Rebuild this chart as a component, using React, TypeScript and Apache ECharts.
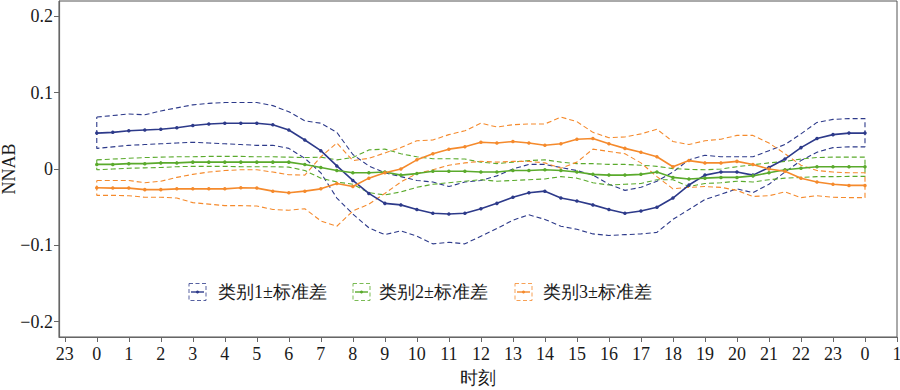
import React, { useEffect, useRef } from "react";
import * as echarts from "echarts";

// hours 0..24 every 30 minutes
const HOURS: number[] = Array.from({ length: 49 }, (_, i) => i * 0.5);

const X_TICKS = [-1, 0, 1, 2, 3, 4, 5, 6, 7, 8, 9, 10, 11, 12, 13, 14, 15, 16, 17, 18, 19, 20, 21, 22, 23, 24, 25];
const X_TICK_LABELS = ["23", "0", "1", "2", "3", "4", "5", "6", "7", "8", "9", "10", "11", "12", "13", "14", "15", "16", "17", "18", "19", "20", "21", "22", "23", "0", "1"];
const Y_TICKS = [-0.2, -0.1, 0, 0.1, 0.2];
const Y_TICK_LABELS = ["\u22120.2", "\u22120.1", "0", "0.1", "0.2"];

const CATEGORIES = ["类别1±标准差", "类别2±标准差", "类别3±标准差"];
const COLORS = ["#2d3a8a", "#5aaa2c", "#f58a2c"];

const C1_MEAN = [0.047, 0.048, 0.050, 0.051, 0.052, 0.054, 0.057, 0.059, 0.060, 0.060, 0.060, 0.058, 0.051,
  0.038, 0.024, 0.004, -0.015, -0.032, -0.045, -0.047, -0.053, -0.058, -0.059, -0.058, -0.052,
  -0.045, -0.037, -0.031, -0.029, -0.038, -0.042, -0.047, -0.053, -0.058, -0.055, -0.050, -0.038,
  -0.021, -0.008, -0.004, -0.004, -0.008, 0.002, 0.013, 0.028, 0.040, 0.045, 0.047, 0.047];
const C1_UP = [0.068, 0.070, 0.072, 0.071, 0.076, 0.080, 0.084, 0.086, 0.087, 0.087, 0.087, 0.083, 0.075,
  0.063, 0.060, 0.048, 0.019, 0.004, -0.005, -0.010, -0.015, -0.017, -0.023, -0.017, -0.015,
  -0.009, 0.000, 0.006, 0.006, 0.002, -0.002, -0.008, -0.020, -0.028, -0.024, -0.016, -0.004,
  0.012, 0.018, 0.016, 0.016, 0.016, 0.024, 0.032, 0.046, 0.061, 0.065, 0.066, 0.066];
const C1_LO = [0.027, 0.029, 0.031, 0.032, 0.033, 0.034, 0.035, 0.034, 0.033, 0.032, 0.031, 0.031, 0.027,
  0.014, -0.005, -0.038, -0.059, -0.077, -0.086, -0.081, -0.088, -0.098, -0.096, -0.098, -0.088,
  -0.078, -0.067, -0.060, -0.066, -0.075, -0.079, -0.085, -0.087, -0.086, -0.085, -0.083, -0.066,
  -0.053, -0.040, -0.033, -0.026, -0.031, -0.020, -0.004, 0.011, 0.022, 0.028, 0.029, 0.029];

const C2_MEAN = [0.006, 0.006, 0.007, 0.007, 0.008, 0.008, 0.009, 0.009, 0.009, 0.009, 0.009, 0.009, 0.009,
  0.006, 0.002, -0.002, -0.005, -0.005, -0.004, -0.008, -0.006, -0.003, -0.003, -0.003, -0.004,
  -0.004, -0.002, -0.002, -0.001, -0.002, -0.004, -0.007, -0.008, -0.008, -0.007, -0.004, -0.011,
  -0.013, -0.012, -0.011, -0.011, -0.009, -0.005, -0.001, 0.001, 0.003, 0.003, 0.003, 0.003];
const C2_UP = [0.012, 0.013, 0.014, 0.015, 0.0155, 0.016, 0.016, 0.0165, 0.0165, 0.0165, 0.016, 0.016, 0.0155,
  0.015, 0.0155, 0.012, 0.015, 0.025, 0.026, 0.020, 0.016, 0.0135, 0.0135, 0.013, 0.009,
  0.007, 0.009, 0.011, 0.012, 0.009, 0.007, 0.007, 0.006, 0.006, 0.005, 0.0035, 0.0005,
  -0.0005, -0.001, 0.000, 0.003, 0.0055, 0.008, 0.010, 0.013, 0.015, 0.0155, 0.0156, 0.0156];
const C2_LO = [-0.001, 0.000, 0.001, 0.0015, 0.002, 0.003, 0.0035, 0.0035, 0.0035, 0.003, 0.003, 0.003, 0.0025,
  -0.002, -0.012, -0.017, -0.020, -0.031, -0.034, -0.030, -0.024, -0.020, -0.018, -0.016, -0.014,
  -0.016, -0.015, -0.014, -0.013, -0.010, -0.012, -0.018, -0.021, -0.020, -0.019, -0.014, -0.014,
  -0.023, -0.019, -0.018, -0.016, -0.017, -0.014, -0.012, -0.011, -0.010, -0.010, -0.0097, -0.0097];

const C3_MEAN = [-0.0245, -0.025, -0.025, -0.027, -0.027, -0.026, -0.026, -0.026, -0.026, -0.0245, -0.025, -0.029, -0.031,
  -0.029, -0.026, -0.019, -0.023, -0.012, -0.005, 0.000, 0.012, 0.020, 0.026, 0.029, 0.035,
  0.034, 0.036, 0.034, 0.031, 0.033, 0.039, 0.040, 0.033, 0.027, 0.022, 0.016, 0.003,
  0.011, 0.008, 0.008, 0.010, 0.006, 0.000, -0.003, -0.012, -0.017, -0.020, -0.0215, -0.0215];
const C3_UP = [-0.015, -0.015, -0.015, -0.018, -0.016, -0.011, -0.007, -0.004, -0.002, -0.001, -0.001, -0.004, -0.0075,
  -0.008, 0.016, 0.034, 0.011, 0.014, 0.021, 0.028, 0.037, 0.038, 0.045, 0.050, 0.060,
  0.055, 0.058, 0.059, 0.059, 0.068, 0.062, 0.048, 0.041, 0.042, 0.046, 0.052, 0.036,
  0.032, 0.037, 0.039, 0.044, 0.044, 0.034, 0.020, 0.005, -0.002, -0.004, -0.005, -0.005];
const C3_LO = [-0.0345, -0.0345, -0.035, -0.037, -0.037, -0.038, -0.044, -0.046, -0.048, -0.048, -0.0485, -0.053, -0.054,
  -0.052, -0.068, -0.075, -0.055, -0.046, -0.032, -0.017, -0.006, -0.001, 0.005, 0.008, 0.010,
  0.009, 0.010, 0.010, 0.008, 0.001, 0.009, 0.026, 0.023, 0.020, 0.008, -0.010, -0.026,
  -0.024, -0.023, -0.024, -0.028, -0.036, -0.035, -0.030, -0.0375, -0.035, -0.037, -0.0375, -0.0375];

const MEANS = [C1_MEAN, C2_MEAN, C3_MEAN];
const UPPERS = [C1_UP, C2_UP, C3_UP];
const LOWERS = [C1_LO, C2_LO, C3_LO];

const FONT = "Liberation Serif";

export default function App() {
  const ref = useRef<HTMLDivElement>(null);

  useEffect(() => {
    document.body.style.margin = "0";
    if (!ref.current) return;
    const chart = echarts.init(ref.current, undefined, { renderer: "svg" });

    const bandSeries = CATEGORIES.map((name, i) => {
      const up = UPPERS[i].map((v, k) => [HOURS[k], v]);
      const lo = LOWERS[i].map((v, k) => [HOURS[k], v]).reverse();
      const data = [...up, ...lo, up[0]];
      return {
        name: name + "_band",
        type: "line",
        data,
        showSymbol: false,
        symbol: "none",
        lineStyle: { color: COLORS[i], width: 1.1, type: [5, 3] },
        z: 2,
        silent: true,
      };
    });
    const meanSeries = CATEGORIES.map((name, i) => ({
      name,
      type: "line",
      data: MEANS[i].map((v, k) => [HOURS[k], v]),
      symbol: "circle",
      symbolSize: 3.5,
      itemStyle: { color: COLORS[i] },
      lineStyle: { color: COLORS[i], width: 1.6 },
      z: 3,
      silent: true,
    }));

    const legendX = [189, 353, 515];
    const legendTextX = [218, 379, 543];
    const legendY = 292;
    const legendGraphics: any[] = [];
    CATEGORIES.forEach((name, i) => {
      const x = legendX[i];
      legendGraphics.push({
        type: "rect",
        shape: { x: x, y: legendY - 8.5, width: 17, height: 17 },
        style: { fill: "none", stroke: COLORS[i], lineWidth: 1, lineDash: [4, 2.5], opacity: 0.8 },
      });
      legendGraphics.push({
        type: "line",
        shape: { x1: x + 2, y1: legendY, x2: x + 15, y2: legendY },
        style: { stroke: COLORS[i], lineWidth: 1.4 },
      });
      legendGraphics.push({
        type: "circle",
        shape: { cx: x + 8.5, cy: legendY, r: 1.5 },
        style: { fill: COLORS[i] },
      });
      legendGraphics.push({
        type: "text",
        x: legendTextX[i],
        y: legendY,
        style: {
          text: name,
          fill: "#1a1a1a",
          fontSize: 18,
          fontFamily: FONT,
          verticalAlign: "middle",
          align: "left",
        },
      });
    });

    chart.setOption({
      animation: false,
      backgroundColor: "#ffffff",
      grid: {
        left: 59,
        right: 3,
        top: 1,
        bottom: 53,
        outerBoundsMode: "none",
        containLabel: false,
        show: true,
        borderColor: "#555",
        borderWidth: 1,
        backgroundColor: "transparent",
      },
      xAxis: {
        type: "value",
        min: -1.18,
        max: 25,
        name: "时刻",
        nameLocation: "middle",
        nameGap: 32,
        nameMoveOverlap: false,
        nameTextStyle: { fontSize: 18, color: "#1a1a1a", fontFamily: FONT },
        axisLine: { show: true, onZero: false, lineStyle: { color: "#666", width: 1.2 } },
        axisTick: { show: true, length: 5, customValues: X_TICKS, lineStyle: { color: "#666" } },
        axisLabel: {
          customValues: X_TICKS,
          formatter: (v: number) => {
            const idx = X_TICKS.indexOf(Math.round(v));
            return idx >= 0 ? X_TICK_LABELS[idx] : "";
          },
          fontSize: 18,
          color: "#1a1a1a",
          fontFamily: FONT,
          margin: 8,
          hideOverlap: false,
        },
        splitLine: { show: false },
      },
      yAxis: {
        type: "value",
        min: -0.22,
        max: 0.22,
        name: "NNAB",
        nameLocation: "middle",
        nameGap: 41,
        nameMoveOverlap: false,
        nameTextStyle: { fontSize: 18, color: "#1a1a1a", fontFamily: FONT },
        axisLine: { show: true, onZero: false, lineStyle: { color: "#666", width: 1.2 } },
        axisTick: { show: true, length: 5, customValues: Y_TICKS, lineStyle: { color: "#666" } },
        axisLabel: {
          customValues: Y_TICKS,
          formatter: (v: number) => {
            let idx = -1;
            Y_TICKS.forEach((t, k) => { if (Math.abs(t - v) < 1e-6) idx = k; });
            return idx >= 0 ? Y_TICK_LABELS[idx] : "";
          },
          fontSize: 18,
          color: "#1a1a1a",
          fontFamily: FONT,
          margin: 6,
        },
        splitLine: { show: false },
      },
      series: [...bandSeries, ...meanSeries],
      graphic: legendGraphics,
    });

    return () => {
      chart.dispose();
    };
  }, []);

  return <div ref={ref} style={{ width: 900, height: 390 }} />;
}
